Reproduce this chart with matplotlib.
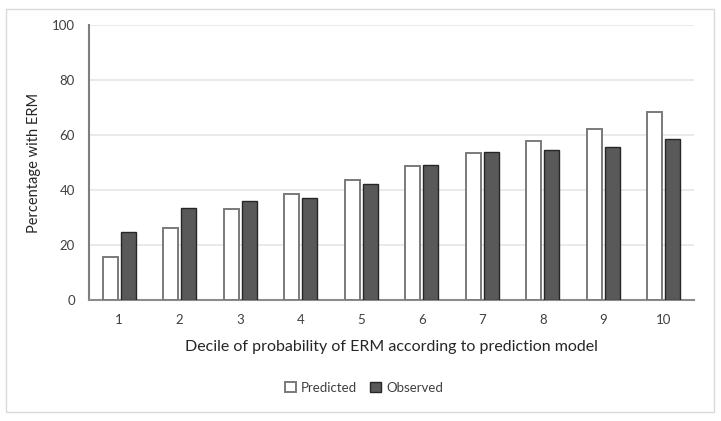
import numpy as np
import matplotlib.pyplot as plt
from matplotlib.patches import Rectangle

# data
deciles = ['1', '2', '3', '4', '5', '6', '7', '8', '9', '10']
predicted = [15.6, 26.2, 33.1, 38.7, 43.6, 48.8, 53.5, 57.9, 62.3, 68.5]
observed = [24.8, 33.5, 36.0, 37.1, 42.2, 49.1, 53.8, 54.5, 55.8, 58.5]

plt.rcParams['font.family'] = ['Lato', 'DejaVu Sans']
txt = '#404040'

fig = plt.figure(figsize=(7.21, 4.21), dpi=100)
ax = fig.add_axes([0.1234, 0.2874, 0.8392, 0.6532])

# outer frame of the chart area
fig.patches.append(Rectangle((6 / 721, 9 / 421), 708 / 721, 403 / 421,
                             transform=fig.transFigure, fill=False,
                             edgecolor='#d9d9d9', linewidth=1.0))

x = np.arange(len(deciles))
w = 0.25
ax.bar(x - w / 2 - 0.025, predicted, w, color='white', edgecolor='#7a7a7a',
       linewidth=1.4, label='Predicted', zorder=3)
ax.bar(x + w / 2 + 0.025, observed, w, color='#595959', edgecolor='#262626',
       linewidth=1.0, label='Observed', zorder=3)

ax.set_xlim(-0.5, len(deciles) - 0.5)
ax.set_ylim(0, 100)
ax.set_yticks(range(0, 101, 20))
ax.set_xticks(x)
ax.set_xticklabels(deciles)
ax.tick_params(length=0, labelsize=9.5, colors=txt, pad=10)
ax.tick_params(axis='y', pad=10)

ax.grid(axis='y', color='#e6e6e6', linewidth=1.2, zorder=0)
for s in ['top', 'right']:
    ax.spines[s].set_visible(False)
ax.spines['left'].set_color('#7f7f7f')
ax.spines['left'].set_linewidth(1.5)
ax.spines['bottom'].set_color('#8c8c8c')
ax.spines['bottom'].set_linewidth(1.5)

ax.set_ylabel('Percentage with ERM', fontsize=10.5, color='#262626', labelpad=8)
ax.set_xlabel('Decile of probability of ERM according to prediction model',
              fontsize=11.5, color='#262626', labelpad=10)

ax.legend(loc='upper center', bbox_to_anchor=(0.455, -0.255), ncol=2, frameon=False,
          fontsize=9.5, handlelength=0.8, handleheight=0.8, columnspacing=1.0,
          handletextpad=0.4, labelcolor='#404040')

fig.savefig('out.png', dpi=100)
